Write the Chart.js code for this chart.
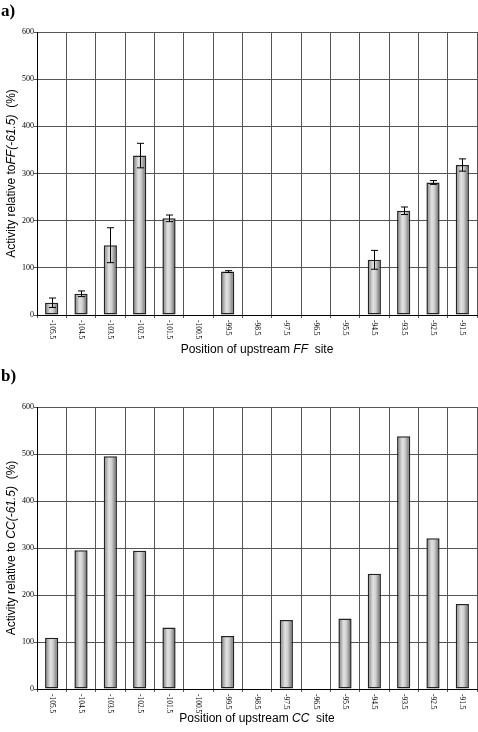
<!DOCTYPE html>
<html>
<head>
<meta charset="utf-8">
<script src="https://cdn.jsdelivr.net/npm/chart.js@4.4.1/dist/chart.umd.min.js"></script>
<style>
  html, body { margin: 0; padding: 0; background: #fff; }
  #page { position: relative; width: 478px; height: 732px; overflow: hidden; }
  .panel { position: absolute; left: 0; width: 478px; }
  .tag { position: absolute; left: 1px; font: bold 17px "Liberation Serif", serif; color: #000; }
</style>
</head>
<body>
<div id="page">
  <div class="panel" style="top:0;height:362px"><canvas id="chartA" width="478" height="362"></canvas></div>
  <div class="panel" style="top:362px;height:370px"><canvas id="chartB" width="478" height="370"></canvas></div>
  <div class="tag" style="top:1px">a)</div>
  <div class="tag" style="top:366px">b)</div>
</div>
<script>
const positions = ['-105.5', '-104.5', '-103.5', '-102.5', '-101.5', '-100.5', '-99.5', '-98.5',
                   '-97.5', '-96.5', '-95.5', '-94.5', '-93.5', '-92.5', '-91.5'];
const ffValues = [26, 45, 148, 338, 205, null, 92, null, null, null, null, 117, 221, 281, 318];
const ffErrors = [10, 6, 37, 26, 7, null, 2, null, null, null, null, 20, 8, 4, 13];
const ccValues = [109, 295, 495, 294, 131, null, 113, null, 147, null, 150, 245, 538, 321, 181];
const yTicks = [0, 100, 200, 300, 400, 500, 600];

// cylinder-like shading on each bar, plus error bars and rotated labels
const barPlugin = {
  id: 'barLook',
  beforeDatasetsDraw(chart) {
    const ctx = chart.ctx;
    chart.getDatasetMeta(0).data.forEach(el => {
      if (!el || isNaN(el.x)) return;
      const l = el.x - el.width / 2, r = el.x + el.width / 2;
      const g = ctx.createLinearGradient(l, 0, r, 0);
      g.addColorStop(0, '#7a7a7a');
      g.addColorStop(0.4, '#e2e2e2');
      g.addColorStop(0.6, '#d0d0d0');
      g.addColorStop(1, '#5e5e5e');
      el.options = Object.assign({}, el.options, { backgroundColor: g });
    });
  },
  afterDatasetsDraw(chart, args, opts) {
    const ctx = chart.ctx;
    const x = chart.scales.x, y = chart.scales.y;
    const vals = chart.data.datasets[0].data;
    const errs = opts.errors || [];
    ctx.save();
    ctx.strokeStyle = '#000';
    ctx.lineWidth = 1;
    errs.forEach((e, i) => {
      if (!e || vals[i] == null) return;
      const cx = Math.round(x.getPixelForValue(i)) + 0.5;
      const top = y.getPixelForValue(vals[i] + e);
      const bot = y.getPixelForValue(vals[i] - e);
      ctx.beginPath();
      ctx.moveTo(cx, top); ctx.lineTo(cx, bot);
      ctx.moveTo(cx - 3.5, top); ctx.lineTo(cx + 3.5, top);
      ctx.moveTo(cx - 3.5, bot); ctx.lineTo(cx + 3.5, bot);
      ctx.stroke();
    });
    ctx.restore();
  },
  afterDraw(chart, args, opts) {
    const ctx = chart.ctx;
    const area = chart.chartArea;
    const x = chart.scales.x;
    ctx.save();
    ctx.fillStyle = '#000';
    // x tick labels, rotated clockwise
    ctx.font = '7.5px "Liberation Serif", serif';
    ctx.textAlign = 'left';
    ctx.textBaseline = 'middle';
    chart.data.labels.forEach((lab, i) => {
      ctx.save();
      ctx.translate(x.getPixelForValue(i), area.bottom + 5);
      ctx.rotate(Math.PI / 2);
      ctx.fillText(lab, 0, 0);
      ctx.restore();
    });
    // axis titles with italic parts
    const drawParts = (parts, cx, cy, rot) => {
      ctx.save();
      ctx.translate(cx, cy);
      ctx.rotate(rot);
      let w = 0;
      parts.forEach(p => { ctx.font = (p[1] ? 'italic ' : '') + '12px "Liberation Sans", Arial, sans-serif'; w += ctx.measureText(p[0]).width; });
      let pos = -w / 2;
      ctx.textAlign = 'left';
      ctx.textBaseline = 'middle';
      parts.forEach(p => {
        ctx.font = (p[1] ? 'italic ' : '') + '12px "Liberation Sans", Arial, sans-serif';
        ctx.fillText(p[0], pos, 0);
        pos += ctx.measureText(p[0]).width;
      });
      ctx.restore();
    };
    drawParts(opts.xTitle, (area.left + area.right) / 2, area.bottom + opts.xTitleGap, 0);
    drawParts(opts.yTitle, 12, (area.top + area.bottom) / 2, -Math.PI / 2);
    ctx.restore();
  }
};

function makeChart(id, values, errors, topPad, xHeight, xTitle, yTitle, xTitleGap) {
  return new Chart(document.getElementById(id), {
    type: 'bar',
    data: {
      labels: positions,
      datasets: [{
        data: values,
        backgroundColor: '#bbb',
        borderColor: '#222',
        borderWidth: 1.5,
        borderSkipped: false,
        barPercentage: 0.45,
        categoryPercentage: 1,
      }],
    },
    options: {
      animation: false,
      responsive: false,
      layout: { padding: { top: topPad, right: 1, left: 0, bottom: 0 } },
      scales: {
        x: {
          grid: { color: '#555', lineWidth: 1, offset: true, tickLength: 3 },
          border: { color: '#000', width: 1 },
          ticks: { display: false },
          afterFit: s => { s.height = xHeight; },
        },
        y: {
          min: 0, max: 600,
          afterBuildTicks: s => { s.ticks = yTicks.map(v => ({ value: v })); },
          grid: { color: '#555', lineWidth: 1, tickLength: 3 },
          border: { color: '#000', width: 1 },
          ticks: { color: '#000', padding: 0, font: { family: '"Liberation Serif", serif', size: 8 } },
          afterFit: s => { s.width = 37; },
        },
      },
      plugins: {
        legend: { display: false },
        tooltip: { enabled: false },
        barLook: { errors: errors, xTitle: xTitle, yTitle: yTitle, xTitleGap: xTitleGap },
      },
    },
    plugins: [barPlugin],
  });
}

makeChart('chartA', ffValues, ffErrors, 32, 47,
  [['Position of upstream ', false], ['FF', true], ['  site', false]],
  [['Activity relative to', false], ['FF(-61.5)', true], ['  (%)', false]], 35);

makeChart('chartB', ccValues, null, 45, 43,
  [['Position of upstream ', false], ['CC', true], ['  site', false]],
  [['Activity relative to ', false], ['CC(-61.5)', true], ['  (%)', false]], 30);
</script>
</body>
</html>
